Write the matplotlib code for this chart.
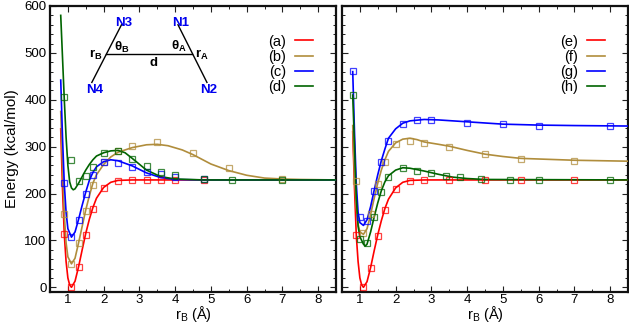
import numpy as np
import matplotlib
matplotlib.use('Agg')
import matplotlib.pyplot as plt
from matplotlib.ticker import MultipleLocator

plt.rcParams['font.family'] = ['Liberation Sans', 'DejaVu Sans']
plt.rcParams['mathtext.fontset'] = 'custom'
plt.rcParams['mathtext.rm'] = 'Liberation Sans'
plt.rcParams['mathtext.bf'] = 'Liberation Sans:bold'
plt.rcParams['mathtext.it'] = 'Liberation Sans:italic'

RED = '#ff0000'
TAN = '#b08d3c'
BLUE = '#0000ff'
GREEN = '#006400'

# left panel: curves
a_x = [0.8, 0.85, 0.9, 0.95, 1, 1.05, 1.1, 1.2, 1.3, 1.4, 1.5, 1.6, 1.7, 1.8, 2, 2.2, 2.4, 2.8, 8.5]
a_y = [338, 210, 112, 55, 20, 5, 0, 13, 44, 80, 115, 145, 170, 190, 213, 224, 228, 229, 229]
b_x = [0.8, 0.85, 0.9, 0.95, 1, 1.1, 1.2, 1.3, 1.4, 1.5, 1.6, 1.7, 1.8, 2, 2.2, 2.4, 2.8, 3.2, 3.5, 3.8, 4.2, 4.5, 5, 5.5, 6, 6.5, 7, 7.5, 8.5]
b_y = [375, 260, 155, 95, 65, 50, 62, 95, 130, 165, 195, 222, 240, 262, 278, 288, 298, 304, 305, 302, 293, 283, 263, 249, 239, 233, 231, 230, 229]
c_x = [0.8, 0.85, 0.9, 0.95, 1, 1.1, 1.2, 1.3, 1.4, 1.5, 1.6, 1.7, 1.8, 2, 2.2, 2.4, 2.8, 3.2, 3.6, 4, 4.8, 8.5]
c_y = [442, 320, 220, 160, 125, 107, 118, 145, 175, 203, 228, 245, 257, 268, 272, 270, 259, 244, 234, 230, 229, 229]
d_x = [0.8, 0.85, 0.9, 0.95, 1, 1.05, 1.1, 1.15, 1.2, 1.3, 1.4, 1.5, 1.6, 1.7, 1.8, 2, 2.2, 2.4, 2.6, 2.8, 3.2, 3.6, 4, 4.8, 8.5]
d_y = [580, 490, 400, 320, 260, 225, 212, 208, 210, 222, 236, 250, 262, 272, 280, 287, 291, 292, 287, 275, 250, 236, 231, 229, 229]

# left panel: squares
a_px = [0.9, 1.1, 1.3, 1.5, 1.7, 2.0, 2.4, 2.8, 3.2, 3.6, 4.0, 4.8]
a_py = [114, 0, 44, 111, 166, 211, 227, 229, 229, 229, 229, 228]
b_px = [0.9, 1.1, 1.3, 1.5, 1.7, 2.0, 2.4, 2.8, 3.5, 4.5, 5.5, 7.0]
b_py = [157, 50, 95, 163, 219, 268, 291, 302, 309, 286, 254, 231]
c_px = [0.9, 1.1, 1.3, 1.5, 1.7, 2.0, 2.4, 2.8, 3.2, 3.6, 4.0, 4.8]
c_py = [223, 108, 143, 198, 240, 267, 266, 256, 246, 241, 236, 230]
d_px = [0.9, 1.1, 1.3, 1.5, 1.7, 2.0, 2.4, 2.8, 3.2, 3.6, 4.0, 4.8, 5.6, 7.0]
d_py = [405, 271, 227, 237, 256, 286, 291, 273, 258, 247, 239, 230, 228, 228]

# right panel: curves
e_x = [0.8, 0.85, 0.9, 0.95, 1, 1.05, 1.1, 1.2, 1.3, 1.4, 1.5, 1.6, 1.7, 1.8, 2, 2.2, 2.4, 2.8, 8.5]
e_y = [332, 210, 110, 55, 20, 5, 0, 12, 42, 78, 112, 142, 168, 188, 212, 224, 228, 229, 229]
f_x = [0.8, 0.85, 0.9, 0.95, 1, 1.1, 1.2, 1.3, 1.4, 1.5, 1.6, 1.7, 1.8, 2, 2.2, 2.4, 2.6, 2.8, 3.2, 3.5, 4, 4.5, 5, 5.5, 7, 8.5]
f_y = [345, 235, 170, 135, 118, 113, 125, 155, 190, 222, 250, 272, 290, 308, 316, 318, 315, 310, 305, 301, 292, 284, 279, 275, 271, 269]
g_x = [0.8, 0.85, 0.9, 0.95, 1, 1.1, 1.2, 1.3, 1.4, 1.5, 1.6, 1.7, 1.8, 2, 2.2, 2.4, 2.8, 3.2, 4, 5, 6, 7, 8.5]
g_y = [460, 330, 220, 160, 138, 132, 144, 172, 207, 240, 270, 295, 318, 338, 350, 355, 358, 357, 353, 348, 346, 345, 344]
h_x = [0.8, 0.85, 0.9, 0.95, 1, 1.1, 1.15, 1.2, 1.3, 1.4, 1.5, 1.6, 1.7, 1.8, 2, 2.2, 2.4, 2.8, 3.2, 3.6, 4, 4.5, 8.5]
h_y = [410, 300, 190, 130, 108, 92, 88, 92, 118, 150, 180, 206, 225, 238, 250, 255, 254, 248, 241, 235, 232, 230, 229]

# right panel: squares
e_px = [0.9, 1.1, 1.3, 1.5, 1.7, 2.0, 2.4, 2.8, 3.5, 4.5, 5.5, 7.0]
e_py = [112, 0, 42, 109, 164, 209, 226, 228, 229, 229, 229, 229]
f_px = [0.9, 1.1, 1.3, 1.5, 1.7, 2.0, 2.4, 2.8, 3.5, 4.5, 5.5, 7.0]
f_py = [226, 116, 156, 220, 268, 305, 312, 308, 299, 284, 274, 270]
g_px = [0.8, 1.0, 1.2, 1.4, 1.6, 1.8, 2.2, 2.6, 3.0, 4.0, 5.0, 6.0, 8.0]
g_py = [461, 149, 141, 205, 268, 311, 349, 356, 356, 351, 348, 345, 344]
h_px = [0.8, 1.0, 1.2, 1.4, 1.6, 1.8, 2.2, 2.6, 3.0, 3.4, 3.8, 4.4, 5.2, 6.0, 8.0]
h_py = [411, 102, 94, 151, 204, 236, 254, 249, 243, 238, 235, 231, 229, 229, 229]

left_series = [('(a)', a_x, a_y, a_px, a_py, RED), ('(b)', b_x, b_y, b_px, b_py, TAN),
               ('(c)', c_x, c_y, c_px, c_py, BLUE), ('(d)', d_x, d_y, d_px, d_py, GREEN)]
right_series = [('(e)', e_x, e_y, e_px, e_py, RED), ('(f)', f_x, f_y, f_px, f_py, TAN),
                ('(g)', g_x, g_y, g_px, g_py, BLUE), ('(h)', h_x, h_y, h_px, h_py, GREEN)]


def panel(ax, series, legend_anchor):
    handles = []
    for label, x, y, px, py, color in series:
        h, = ax.plot(x, y, color=color, lw=1.2, label=label, zorder=3)
        ax.plot(px, py, ls='none', marker='s', ms=5, mfc='none', mec=color, mew=0.9, alpha=0.75, zorder=4)
        handles.append(h)
    ax.set_xlim(0.5, 8.5)
    ax.set_ylim(-10, 600)
    ax.xaxis.set_major_locator(MultipleLocator(1))
    ax.xaxis.set_minor_locator(MultipleLocator(0.5))
    ax.yaxis.set_major_locator(MultipleLocator(100))
    ax.yaxis.set_minor_locator(MultipleLocator(20))
    ax.tick_params(which='major', direction='in', top=True, right=True, length=4, width=0.8,
                   labelsize=9.5, pad=2.5, color='#222222')
    ax.tick_params(which='minor', direction='in', top=True, right=True, length=2, width=0.7, color='#222222')
    ax.tick_params(axis='x', which='major', pad=1.5)
    for s in ax.spines.values():
        s.set_linewidth(1.6)
        s.set_color('#111111')
    ax.set_xlabel(r'r$_{\mathrm{B}}$ (Å)', fontsize=10.5, labelpad=-1.5)
    ax.legend(handles=handles, loc='upper right', bbox_to_anchor=legend_anchor, frameon=False,
              markerfirst=False, fontsize=10.5, labelspacing=0.08, handlelength=1.25,
              handletextpad=0.6, borderpad=0, borderaxespad=0)


fig = plt.figure(figsize=(6.29, 3.23), dpi=100)
ax1 = fig.add_axes([50 / 629, 1 - 292 / 323, 286 / 629, 286 / 323])
ax2 = fig.add_axes([342 / 629, 1 - 292 / 323, 286 / 629, 286 / 323])

panel(ax1, left_series, (0.92, 0.9))
panel(ax2, right_series, (0.92, 0.9))
ax1.set_ylabel('Energy (kcal/mol)', fontsize=11, labelpad=4)
ax2.tick_params(labelleft=False)

# molecule sketch in the left panel
ax1.plot([2.50, 1.67], [560, 437], color='black', lw=1)
ax1.plot([2.08, 4.48], [498, 498], color='black', lw=1)
ax1.plot([4.08, 4.89], [560, 437], color='black', lw=1)
for txt, x, y in [('N3', 2.55, 563), ('N1', 4.14, 563), ('N4', 1.75, 421), ('N2', 4.95, 421)]:
    ax1.text(x, y, txt, color='#0000ee', fontsize=9.5, fontweight='bold', ha='center', va='center')
for txt, x, y in [(r'r$_{\mathbf{B}}$', 1.78, 496), (r'θ$_{\mathbf{B}}$', 2.51, 512),
                  (r'θ$_{\mathbf{A}}$', 4.11, 514), (r'r$_{\mathbf{A}}$', 4.74, 495), ('d', 3.39, 478)]:
    ax1.text(x, y, txt, color='black', fontsize=9.5, fontweight='bold', ha='center', va='center')

fig.savefig('out.png', dpi=100)
